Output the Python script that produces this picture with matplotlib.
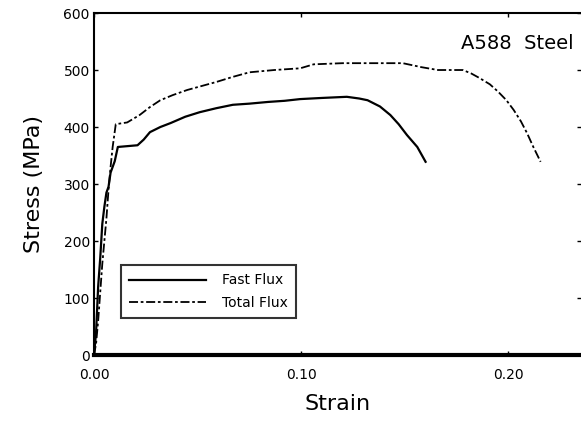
import matplotlib.pyplot as plt

# curvas tensao-deformacao
strain_fast = [0.0, 0.001, 0.002, 0.003, 0.004, 0.005, 0.006, 0.007, 0.008, 0.010, 0.0115,
               0.021, 0.024, 0.027, 0.032, 0.037, 0.044, 0.051, 0.059, 0.067, 0.075, 0.084,
               0.092, 0.0995, 0.110, 0.122, 0.128, 0.132, 0.138, 0.143, 0.147, 0.151, 0.156, 0.160]
stress_fast = [0, 40, 120, 170, 230, 260, 285, 295, 320, 340, 365,
               368, 378, 391, 400, 407, 418, 426, 433, 439, 441, 444,
               446, 449, 451, 453, 450, 447, 436, 421, 405, 386, 365, 339]

strain_total = [0.0, 0.001, 0.002, 0.003, 0.004, 0.005, 0.006, 0.007, 0.008, 0.009, 0.0105,
                0.016, 0.022, 0.027, 0.032, 0.038, 0.045, 0.052, 0.059, 0.067, 0.075, 0.087,
                0.0995, 0.106, 0.120, 0.135, 0.149, 0.158, 0.166, 0.178, 0.182, 0.186, 0.191,
                0.195, 0.199, 0.2025, 0.206, 0.209, 0.212, 0.2155]
stress_total = [0, 20, 60, 110, 160, 200, 240, 290, 330, 365, 405,
                408, 421, 435, 447, 456, 465, 472, 479, 488, 496, 500,
                503, 510, 512, 512, 512, 505, 500, 500, 494, 486, 475,
                462, 447, 430, 410, 389, 365, 339]

fig = plt.figure(figsize=(5.81, 4.24), dpi=100)
ax = fig.add_axes([0.1618, 0.1627, 0.8382, 0.8066])

ax.plot(strain_fast, stress_fast, color='black', lw=1.6, label='Fast Flux')
ax.plot(strain_total, stress_total, color='black', lw=1.3, linestyle=(0, (5, 1.5, 1.5, 1.5)),
        label='Total Flux')

ax.set_xlim(0, 0.235)
ax.set_ylim(0, 600)
ax.set_xticks([0.0, 0.1, 0.2])
ax.set_xticklabels(['0.00', '0.10', '0.20'])
ax.set_yticks([0, 100, 200, 300, 400, 500, 600])
ax.tick_params(direction='in', length=3, width=1, labelsize=10, right=True, top=True)
ax.tick_params(axis='x', pad=9)
ax.tick_params(axis='y', pad=3)
ax.spines['right'].set_visible(False)
ax.spines['bottom'].set_linewidth(3)
ax.spines['left'].set_linewidth(1.5)
ax.spines['top'].set_linewidth(1.5)

ax.set_xlabel('Strain', fontsize=16, labelpad=9)
ax.set_ylabel('Stress (MPa)', fontsize=16, labelpad=14)
ax.text(0.985, 0.91, 'A588  Steel', transform=ax.transAxes, fontsize=14, ha='right', va='center')

leg = ax.legend(loc='lower left', bbox_to_anchor=(0.055, 0.108), fontsize=10, frameon=True,
                fancybox=False, edgecolor='black', handlelength=5.5, handletextpad=1.2,
                labelspacing=0.6, borderpad=0.6, borderaxespad=0)
leg.get_frame().set_linewidth(1.5)

plt.savefig('out.png', dpi=100)
